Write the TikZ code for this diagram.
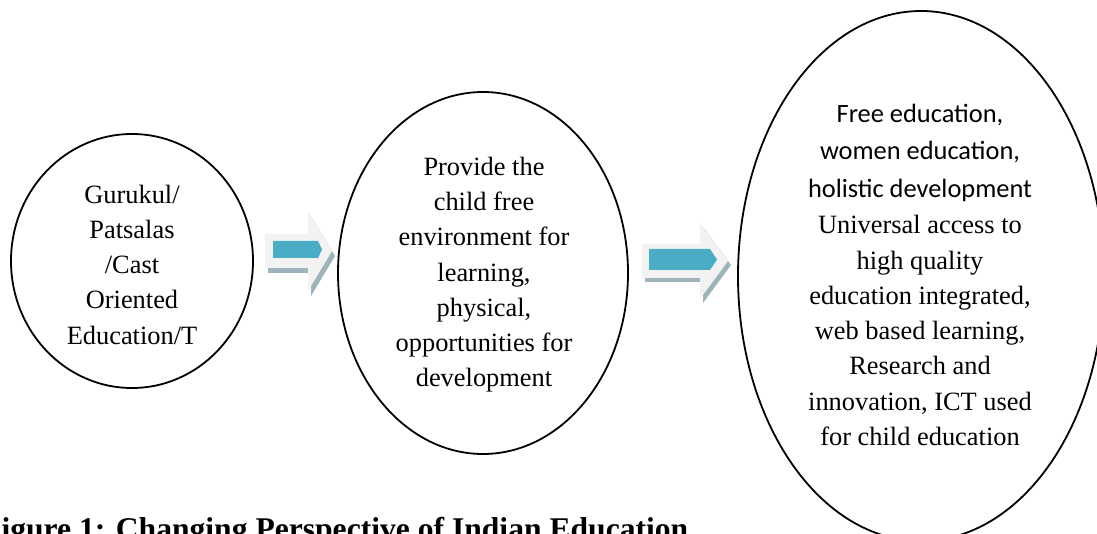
\documentclass[tikz,border=0pt]{standalone}
\usepackage{fontspec}
\setmainfont{Liberation Serif}
\newfontfamily\calibrilike{Carlito}
\usetikzlibrary{shapes.geometric}
\definecolor{arrowface}{HTML}{F2F2F2}
\definecolor{arrowshade}{HTML}{9DB4BD}
\definecolor{arrowcore}{HTML}{4BACC6}

\begin{document}
\begin{tikzpicture}[x=1pt,y=-1pt,
  stage/.style={draw=black, line width=1.8pt, ellipse, inner sep=0pt},
  body/.style={align=center, inner sep=0pt, font=\fontsize{26.4}{35.25}\selectfont},
  sans body/.style={align=center, inner sep=0pt, font=\calibrilike\fontsize{26.4}{37.5}\selectfont},
  face/.style={fill=arrowface},
  shade/.style={fill=arrowshade},
  core/.style={fill=arrowcore}]
\useasboundingbox (0,0) rectangle (1097,534);
\clip (0,0) rectangle (1097,534);

% the three stages
\node[stage, minimum width=242pt, minimum height=254pt] (c1) at (132,261) {};
\node[stage, minimum width=290pt, minimum height=362pt] (c2) at (483,273) {};
\node[stage, minimum width=366pt, minimum height=530pt] (c3) at (921,276) {};

\node[body] (t1) at (132,264.6) {Gurukul/\\Patsalas\\/Cast\\Oriented\\Education/T};
\node[body] (t2) at (484,274.9) {Provide the\\child free\\environment for\\learning,\\physical,\\opportunities for\\development};
\node[sans body] (t3a) at (920,152.9) {Free education,\\women education,\\holistic development};
\node[body] (t3b) at (920,330.5) {Universal access to\\high quality\\education integrated,\\web based learning,\\Research and\\innovation, ICT used\\for child education};

% first block arrow
\begin{scope}[shift={(3,5)}]
  \fill[shade] (265,234) -- (308,234) -- (308,211) -- (332,251) -- (308,291) -- (308,268) -- (265,268) -- cycle;
\end{scope}
\fill[face] (265,234) -- (308,234) -- (308,211) -- (332,251) -- (308,291) -- (308,268) -- (265,268) -- cycle;
\fill[core] (273,241) -- (318,241) -- (322,249.5) -- (318,258) -- (273,258) -- cycle;

% second block arrow
\begin{scope}[shift={(3,4)}]
  \fill[shade] (642,244) -- (700,244) -- (700,223) -- (728,261) -- (700,299) -- (700,278) -- (642,278) -- cycle;
\end{scope}
\fill[face] (642,244) -- (700,244) -- (700,223) -- (728,261) -- (700,299) -- (700,278) -- (642,278) -- cycle;
\fill[core] (649,249) -- (710,249) -- (717,259.5) -- (710,270) -- (649,270) -- cycle;

% caption
\node[anchor=base west, inner sep=0pt, font=\bfseries\fontsize{31.6}{38}\selectfont] (cap) at (-18,539.5) {Figure 1: Changing Perspective of Indian Education};
\end{tikzpicture}
\end{document}
